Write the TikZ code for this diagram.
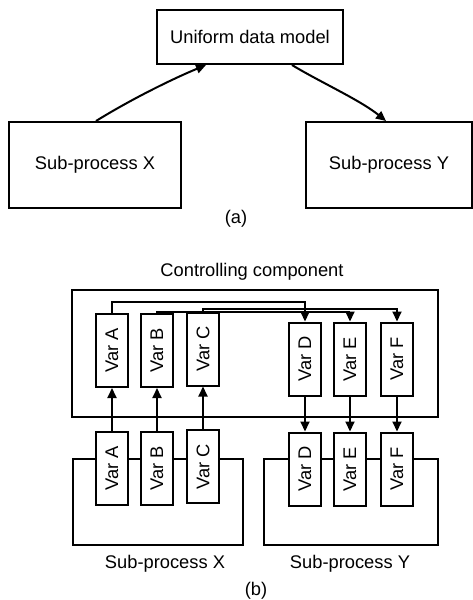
\documentclass[tikz,border=0pt]{standalone}
\usepackage{fontspec}
\setmainfont{Liberation Sans}
\usetikzlibrary{arrows.meta,calc}
\begin{document}
\begin{tikzpicture}[x=1pt,y=-1pt,
  every node/.style={font=\fontsize{18.3}{20}\selectfont, inner sep=0pt},
  box/.style={draw, line width=2pt, fill=white},
  varbox/.style={draw, line width=2pt, fill=white, minimum width=32pt, minimum height=73pt},
  arr/.style={line width=2pt, -{Triangle[length=10pt,width=9pt]}}]
\useasboundingbox (0,0) rectangle (473,600);
% ---------- (a)
\node[box, minimum width=186pt, minimum height=54pt] (udm) at (250,37) {Uniform data model};
\node[box, minimum width=172pt, minimum height=86pt] (spx) at (95,165) {Sub-process X};
\node[box, minimum width=166pt, minimum height=86pt] (spy) at (389,165) {Sub-process Y};
\node (la) at (236,219) {(a)};
\coordinate (ua) at ($(udm.south west)+(50,0)$);
\coordinate (ub) at ($(udm.south west)+(136,0)$);
\coordinate (xa) at ($(spx.north west)+(88,0)$);
\coordinate (yb) at ($(spy.north west)+(81,0)$);
\draw[arr] (xa) .. controls (130,100) and (170,80) .. (ua);
\draw[arr] (ub) .. controls (320,82) and (360,100) .. (yb);
% ---------- (b)
\node (cc) at (252,272) {Controlling component};
\node[box, minimum width=366pt, minimum height=127pt] (ctrl) at (255,353.5) {};
\node[box, minimum width=170pt, minimum height=86pt] (spx2) at (158,502) {};
\node[box, minimum width=174pt, minimum height=86pt] (spy2) at (351,502) {};
\node (lx) at (165,564) {Sub-process X};
\node (ly) at (350,564) {Sub-process Y};
\node (lb) at (256,591) {(b)};
% top vars
\node[varbox] (a1) at (112,350.5) {\rotatebox{90}{Var A}};
\node[varbox] (b1) at (157,350.5) {\rotatebox{90}{Var B}};
\node[varbox] (c1) at (203,349) {\rotatebox{90}{Var C}};
\node[varbox] (d1) at (305,359) {\rotatebox{90}{Var D}};
\node[varbox] (e1) at (350,359) {\rotatebox{90}{Var E}};
\node[varbox] (f1) at (397,359) {\rotatebox{90}{Var F}};
% bottom vars
\node[varbox] (a2) at (112,468) {\rotatebox{90}{Var A}};
\node[varbox] (b2) at (157,468) {\rotatebox{90}{Var B}};
\node[varbox] (c2) at (203,466.5) {\rotatebox{90}{Var C}};
\node[varbox] (d2) at (305,469) {\rotatebox{90}{Var D}};
\node[varbox] (e2) at (350,469) {\rotatebox{90}{Var E}};
\node[varbox] (f2) at (397,469) {\rotatebox{90}{Var F}};
% vertical arrows
\draw[arr] (a2.north) -- (a1.south);
\draw[arr] (b2.north) -- (b1.south);
\draw[arr] (c2.north) -- (c1.south);
\draw[arr] (d1.south) -- (d2.north);
\draw[arr] (e1.south) -- (e2.north);
\draw[arr] (f1.south) -- (f2.north);
% top connectors
\draw[arr] (a1.north) -- ++(0,-11) -| (d1.north);
\draw[arr] (b1.north) -- ++(0,-1) -| (e1.north);
\draw[arr] (c1.north) -- ++(0,-3) -| (f1.north);
\end{tikzpicture}
\end{document}
